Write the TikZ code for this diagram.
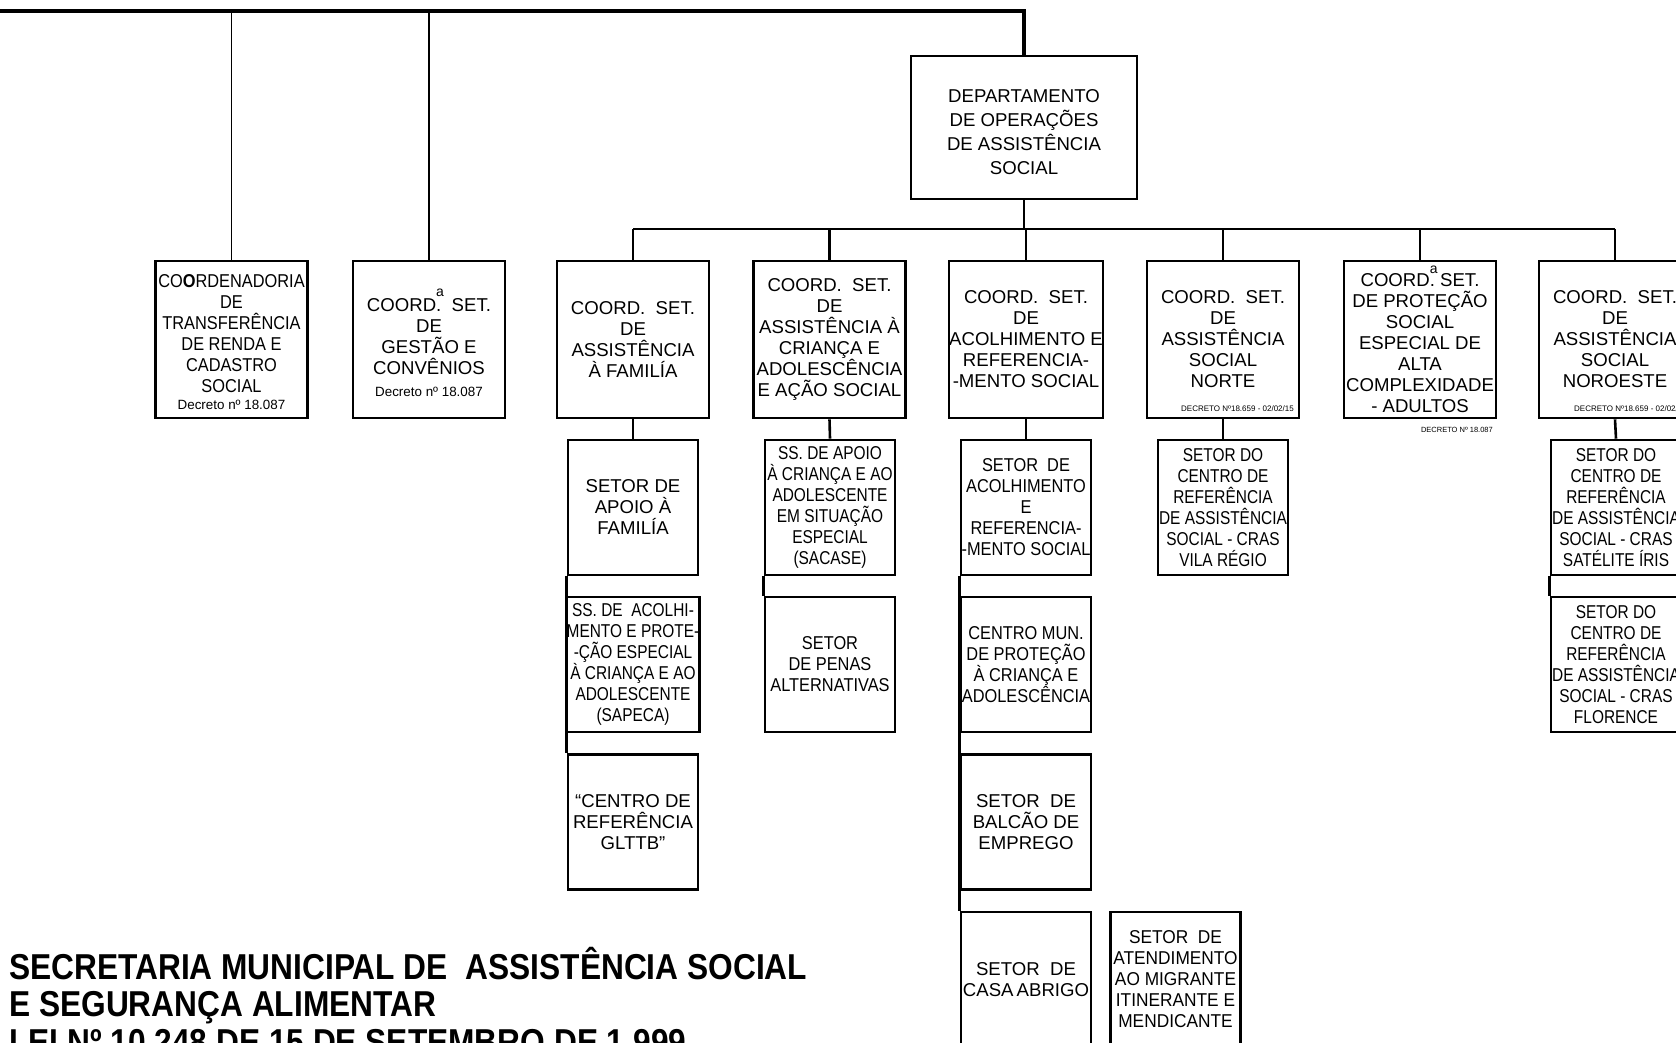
\documentclass[tikz,border=0pt]{standalone}
\usepackage{fontspec}
\setmainfont{Liberation Sans}
\newfontfamily\cnd[FakeStretch=0.83]{Liberation Sans}
\newfontfamily\cne[FakeStretch=0.88]{Liberation Sans}
\newfontfamily\cnf[FakeStretch=0.93]{Liberation Sans}
\newfontfamily\ttlfont[FakeStretch=0.88]{Liberation Sans}
\newcommand\fsz{\fontsize{18.6}{21}\selectfont}
\newcommand\supa[1]{\rlap{\smash{\raisebox{#1}{\fontsize{14}{14}\selectfont a}}}}
\begin{document}
\begin{tikzpicture}[x=1pt,y=-1pt,
  box/.style={draw, line width=2.6pt, inner sep=0pt, align=center, font=\fsz},
  lvltwo/.style={box, minimum width=152pt, minimum height=157pt},
  lvlthree/.style={box, minimum width=130pt, minimum height=135pt},
  conn/.style={line width=2.6pt},
  thin/.style={line width=1.8pt},
  txt/.style={inner sep=0pt, align=center},
  small/.style={inner sep=0pt, font=\fontsize{8}{8}\selectfont},
  ttl/.style={inner sep=0pt, anchor=base west, font=\ttlfont\bfseries\fontsize{36}{37.5}\selectfont}]
\useasboundingbox (0,0) rectangle (1676,1043);
\clip (0,0) rectangle (1676,1043);
\fill[white] (0,0) rectangle (1676,1043);

% department
\node[box, minimum width=226pt, minimum height=143pt] (dept) at (1024,127.5) {};
\node[txt, font=\fontsize{18.6}{24}\selectfont] (deptt) at (1024,132.5)
  {DEPARTAMENTO\\DE OPERAÇÕES\\DE ASSISTÊNCIA\\SOCIAL};

% level two
\node[lvltwo] (b1) at (231.5,339.5) {};
\node[txt, font=\cne\fsz] (b1t) at (231.5,334) {CO{\bfseries O}RDENADORIA\\DE\\TRANSFERÊNCIA\\DE RENDA E\\CADASTRO\\SOCIAL};
\node[txt, font=\fontsize{13.4}{13.4}\selectfont] (d1) at (231.5,405) {Decreto nº 18.087};

\node[lvltwo] (b2) at (429,339.5) {};
\node[txt, font=\fsz] (b2t) at (429,337) {COORD\supa{15pt}.~~SET.\\DE\\GESTÃO E\\CONVÊNIOS};
\node[txt, font=\fontsize{13.4}{13.4}\selectfont] (d2) at (429,392) {Decreto nº 18.087};

\node[lvltwo] (b3) at (633,339.5) {COORD.~~SET.\\DE\\ASSISTÊNCIA\\À FAMILÍA};
\node[lvltwo] (b4) at (829.5,339.5) {COORD.~~SET.\\DE\\ASSISTÊNCIA À\\CRIANÇA E\\ADOLESCÊNCIA\\E AÇÃO SOCIAL};
\node[lvltwo] (b5) at (1026,339.5) {COORD.~~SET.\\DE\\ACOLHIMENTO E\\REFERENCIA-\\-MENTO SOCIAL};
\node[lvltwo] (b6) at (1223,339.5) {COORD.~~SET.\\DE\\ASSISTÊNCIA\\SOCIAL\\NORTE};
\node[small, anchor=base east] (d6) at (1294,411) {DECRETO Nº18.659 - 02/02/15};
\node[lvltwo] (b7) at (1420,339.5) {};
\node[txt, font=\fsz] (b7t) at (1420,343) {COORD\supa{13pt}.~SET.\\DE PROTEÇÃO\\SOCIAL\\ESPECIAL DE\\ALTA\\COMPLEXIDADE\\- ADULTOS};
\node[small, anchor=base east, font=\fontsize{7.5}{7.5}\selectfont] (d7) at (1493,432) {DECRETO Nº 18.087};
\node[lvltwo] (b8) at (1615,339.5) {COORD.~~SET.\\DE\\ASSISTÊNCIA\\SOCIAL\\NOROESTE};
\node[small, anchor=base east] (d8) at (1687,411) {DECRETO Nº18.659 - 02/02/15};

% level three
\node[lvlthree] (s31) at (633,507.5) {SETOR DE\\APOIO À\\FAMILÍA};
\node[lvlthree, font=\cnd\fsz] (s32) at (633,664.5) {SS. DE~~ACOLHI-\\MENTO E PROTE-\\-ÇÃO ESPECIAL\\À CRIANÇA E AO\\ADOLESCENTE\\(SAPECA)};
\node[lvlthree] (s33) at (633,822) {“CENTRO DE\\REFERÊNCIA\\GLTTB”};

\node[lvlthree, font=\cnd\fsz] (s41) at (830,507.5) {SS. DE APOIO\\À CRIANÇA E AO\\ADOLESCENTE\\EM SITUAÇÃO\\ESPECIAL\\(SACASE)};
\node[lvlthree, font=\cne\fsz] (s42) at (830,664.5) {SETOR\\DE PENAS\\ALTERNATIVAS};

\node[lvlthree, font=\cne\fsz] (s51) at (1026,507.5) {SETOR~~DE\\ACOLHIMENTO\\E\\REFERENCIA-\\-MENTO SOCIAL};
\node[lvlthree, font=\cne\fsz] (s52) at (1026,664.5) {CENTRO MUN.\\DE PROTEÇÃO\\À CRIANÇA E\\ADOLESCÊNCIA};
\node[lvlthree] (s53) at (1026,822) {SETOR~~DE\\BALCÃO DE\\EMPREGO};
\node[lvlthree] (s54) at (1026,979.5) {SETOR~~DE\\CASA\,ABRIGO};
\node[lvlthree, font=\cnf\fsz] (mig) at (1175.5,979.5) {SETOR~~DE\\ATENDIMENTO\\AO MIGRANTE\\ITINERANTE E\\MENDICANTE};

\node[lvlthree, font=\cnd\fsz] (s61) at (1223,507.5) {SETOR DO\\CENTRO DE\\REFERÊNCIA\\DE ASSISTÊNCIA\\SOCIAL - CRAS\\VILA RÉGIO};

\node[lvlthree, font=\cnd\fsz] (s81) at (1616,507.5) {SETOR DO\\CENTRO DE\\REFERÊNCIA\\DE ASSISTÊNCIA\\SOCIAL - CRAS\\SATÉLITE ÍRIS};
\node[lvlthree, font=\cnd\fsz] (s82) at (1616,664.5) {SETOR DO\\CENTRO DE\\REFERÊNCIA\\DE ASSISTÊNCIA\\SOCIAL - CRAS\\FLORENCE};

% connectors
\coordinate (topL) at (0,11);
\coordinate (bus) at (0,229);
\draw[line width=3.4pt] (topL) -| (dept.north);
\draw[thin] (b1.north |- topL) -- (b1.north);
\draw[thin] (b2.north |- topL) -- (b2.north);
\draw[conn] (dept.south) -- (dept.south |- bus);
\draw[conn] (b3.north |- bus) -- (b8.north |- bus);
\foreach \b in {b3,b4,b5,b6,b7,b8} \draw[conn] (\b.north |- bus) -- (\b.north);
\draw[conn] (b3.south) -- (s31.north);
\draw[conn] (s31.south west) -- (s33.north west);
\draw[conn] (b4.south) -- (s41.north);
\draw[conn] (s41.south west) -- (s42.north west);
\draw[conn] (b5.south) -- (s51.north);
\draw[conn] (s51.south west) -- (s54.north west);
\draw[conn] (b6.south) -- (s61.north);
\draw[conn] (b8.south) -- (s81.north);
\draw[conn] (s81.south west) -- (s82.north west);

% title
\node[ttl] (title1) at (9,979) {SECRETARIA MUNICIPAL DE~~ASSISTÊNCIA SOCIAL};
\node[ttl] (title2) at (9,1016.5) {E SEGURANÇA ALIMENTAR};
\node[ttl] (title3) at (9,1054) {LEI Nº 10.248 DE 15 DE SETEMBRO DE 1.999};
\end{tikzpicture}
\end{document}
